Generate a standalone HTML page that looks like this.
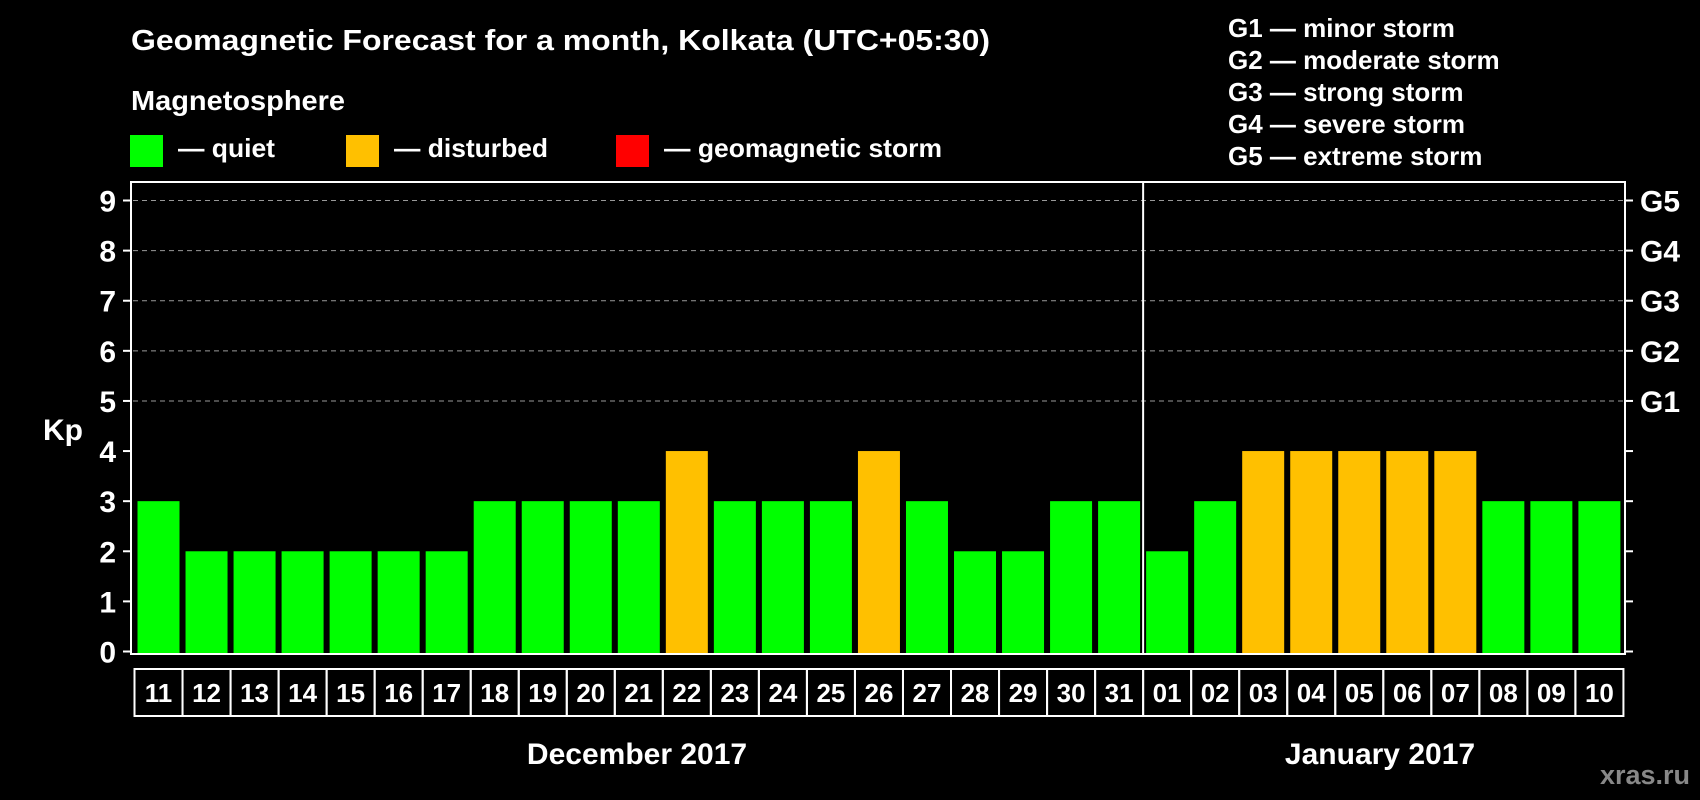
<!DOCTYPE html>
<html><head><meta charset="utf-8"><style>
html,body{margin:0;padding:0;background:#000;width:1700px;height:800px;overflow:hidden}
svg{display:block;font-family:"Liberation Sans",Arial,sans-serif;font-weight:bold}
</style></head><body>
<svg id="chart" width="1700" height="800" viewBox="0 0 1700 800">
<rect width="1700" height="800" fill="#000"/>
<text x="131" y="50" fill="#fff" font-size="29" textLength="859" lengthAdjust="spacingAndGlyphs">Geomagnetic Forecast for a month, Kolkata (UTC+05:30)</text>
<text x="131" y="110" fill="#fff" font-size="28" textLength="214" lengthAdjust="spacingAndGlyphs">Magnetosphere</text>
<rect x="130" y="135" width="33" height="32" fill="#00ff00"/>
<text x="178" y="157" fill="#fff" font-size="26" textLength="97" lengthAdjust="spacingAndGlyphs">— quiet</text>
<rect x="346" y="135" width="33" height="32" fill="#ffc000"/>
<text x="394" y="157" fill="#fff" font-size="26" textLength="154" lengthAdjust="spacingAndGlyphs">— disturbed</text>
<rect x="616" y="135" width="33" height="32" fill="#ff0000"/>
<text x="664" y="157" fill="#fff" font-size="26" textLength="278" lengthAdjust="spacingAndGlyphs">— geomagnetic storm</text>
<g fill="#fff" font-size="26">
<text x="1228" y="37">G1 — minor storm</text>
<text x="1228" y="69">G2 — moderate storm</text>
<text x="1228" y="101">G3 — strong storm</text>
<text x="1228" y="133">G4 — severe storm</text>
<text x="1228" y="165">G5 — extreme storm</text>
</g>
<text x="63" y="440" fill="#fff" font-size="30" text-anchor="middle">Kp</text>
<text x="637" y="764" fill="#fff" font-size="30" text-anchor="middle">December 2017</text>
<text x="1380" y="764" fill="#fff" font-size="30" text-anchor="middle">January 2017</text>
<text x="1690" y="784" fill="#888" font-size="27" text-anchor="end">xras.ru</text>
<g id="plot"></g>
</svg>
<script>
const days=["11","12","13","14","15","16","17","18","19","20","21","22","23","24","25","26","27","28","29","30","31","01","02","03","04","05","06","07","08","09","10"];
const kp=[3,2,2,2,2,2,2,3,3,3,3,4,3,3,3,4,3,2,2,3,3,2,3,4,4,4,4,4,3,3,3];
const yTicks=[0,1,2,3,4,5,6,7,8,9];
const gLabels=["","","","","","G1","G2","G3","G4","G5"];
const monthSplit=21;
const NS="http://www.w3.org/2000/svg";
const plot=document.getElementById('plot');
const L=131,R=1625,T=182,B=654,cellL=134.5,slot=48.03,barW=42,cellT=669,cellB=716;
const y=v=>651.5-v*(651.5-200.5)/9;
const x=i=>cellL+i*slot;
function mk(t,a){const e=document.createElementNS(NS,t);for(const k in a)e.setAttribute(k,a[k]);plot.appendChild(e);return e;}
yTicks.forEach((v,i)=>{
  if(v>=5){const g=mk('line',{x1:L+2,x2:R-2,y1:y(v),y2:y(v),stroke:'#999','stroke-dasharray':'5,4','stroke-width':1});
  
  }
  const t1=mk('line',{x1:L-8,x2:L,y1:y(v),y2:y(v),stroke:'#fff','stroke-width':2});
  
  
  const t2=mk('line',{x1:R,x2:R+8,y1:y(v),y2:y(v),stroke:'#fff','stroke-width':2});
  
  
  const lb=mk('text',{x:L-15,y:y(v)+11,fill:'#fff','font-size':30,'text-anchor':'end'});
  lb.textContent=v;
  
  
  if(gLabels[i]){const gl=mk('text',{x:R+15,y:y(v)+11,fill:'#fff','font-size':30});
  gl.textContent=gLabels[i];
  
  }
});
kp.forEach((v,i)=>{
  const col=v>=5?'#ff0000':(v>=4?'#ffc000':'#00ff00');
  const b=mk('rect',{x:x(i)+3,y:y(v),width:barW,height:B-1-y(v),fill:col});
  
  
  const c=mk('rect',{x:x(i),y:cellT,width:slot,height:cellB-cellT,fill:'none',stroke:'#fff','stroke-width':2});
  
  
  const t=mk('text',{x:x(i)+slot/2,y:cellT+33,fill:'#fff','font-size':26,'text-anchor':'middle'});
  t.textContent=days[i];
  
  
});
const fr=mk('rect',{x:L,y:T,width:R-L,height:B-T,fill:'none',stroke:'#fff','stroke-width':2});


const sep=mk('line',{x1:x(monthSplit),x2:x(monthSplit),y1:T,y2:B,stroke:'#fff','stroke-width':2});


</script>
</body></html>
